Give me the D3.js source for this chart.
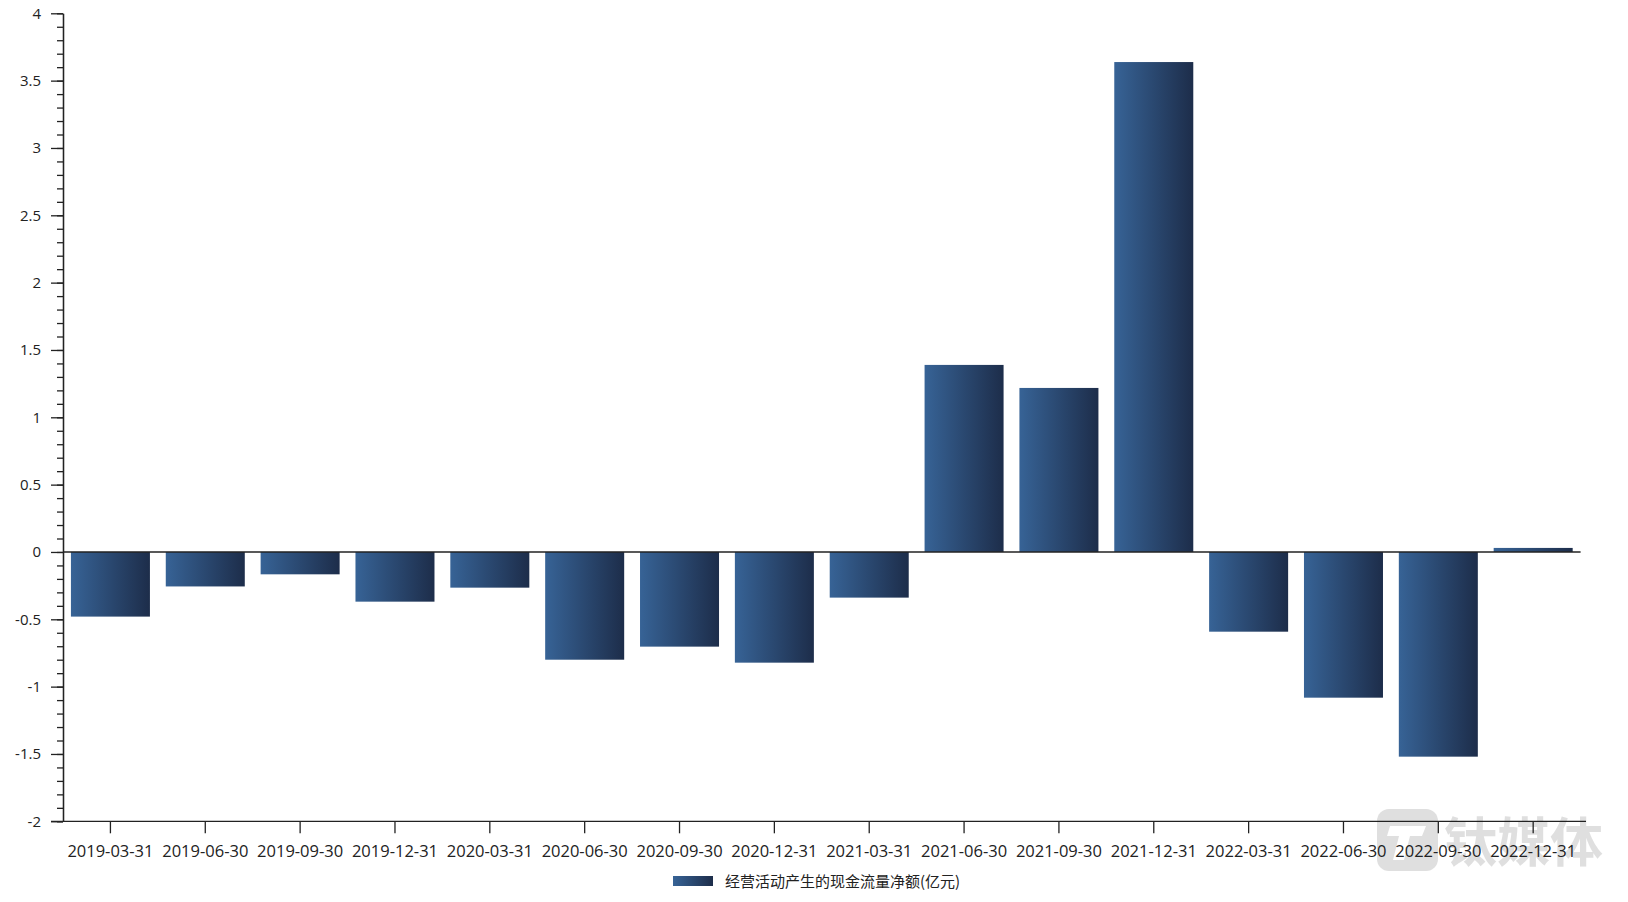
<!DOCTYPE html>
<html><head><meta charset="utf-8">
<script src="https://cdn.jsdelivr.net/npm/d3@7"></script>
<style>
body{margin:0;background:#fff;}
text{font-family:"Noto Sans CJK SC","Noto Sans",sans-serif;}
.num text{font-family:"Open Sans","Noto Sans",sans-serif;}
</style></head>
<body><svg id="c" width="1628" height="902"></svg>
<script>
const categories = ["2019-03-31","2019-06-30","2019-09-30","2019-12-31","2020-03-31","2020-06-30","2020-09-30","2020-12-31","2021-03-31","2021-06-30","2021-09-30","2021-12-31","2022-03-31","2022-06-30","2022-09-30","2022-12-31"];
const values = [-0.48,-0.256,-0.166,-0.369,-0.265,-0.80,-0.703,-0.822,-0.339,1.389,1.218,3.638,-0.592,-1.082,-1.52,0.03];
const seriesName = "经营活动产生的现金流量净额(亿元)";
const yMajorTicks = [-2,-1.5,-1,-0.5,0,0.5,1,1.5,2,2.5,3,3.5,4];
const yMinorTicks = d3.range(-20,41).map(d=>d/10);

const svg = d3.select("#c");
const defs = svg.append("defs");
const grad = defs.append("linearGradient").attr("id","bg").attr("x1","0%").attr("x2","100%").attr("y1","0%").attr("y2","0%");
grad.append("stop").attr("offset","0%").attr("stop-color","#376396");
grad.append("stop").attr("offset","100%").attr("stop-color","#1d2d4a");

const mLeft = 63, mRight = 1580.6, mTop = 13.3, mBottom = 821.3;
const x = d3.scaleBand().domain(categories).range([mLeft,mRight]).paddingInner(0.167).paddingOuter(0.0835);
const y = d3.scaleLinear().domain([-2,4]).range([mBottom,mTop]);

// watermark
const wm = svg.append("g").attr("opacity",0.85);
wm.append("rect").attr("x",1377).attr("y",809).attr("width",61).attr("height",62).attr("rx",12).attr("fill","#dadada");
wm.append("path").attr("d","M1390,826 H1426 L1422,836 H1410 L1404,860 H1393 L1399,836 H1387 Z").attr("fill","#fff");
wm.append("text").attr("x",1444).attr("y",862).attr("font-size",53).attr("font-weight","bold").attr("fill","#dadada").text("钛媒体");

// bars
svg.append("g").selectAll("rect").data(values).join("rect")
  .attr("x",(d,i)=>x(categories[i]))
  .attr("width",x.bandwidth())
  .attr("y",d=>y(Math.max(0,d)))
  .attr("height",d=>Math.abs(y(d)-y(0)))
  .attr("fill","url(#bg)");

// zero line
svg.append("line").attr("x1",mLeft).attr("x2",mRight).attr("y1",y(0)).attr("y2",y(0)).attr("stroke","#222").attr("stroke-width",1.5);

// y axis
const ya = svg.append("g").attr("class","num").attr("transform",`translate(${mLeft},0)`);
ya.call(d3.axisLeft(y).tickValues(yMinorTicks).tickSize(6).tickFormat("").tickSizeOuter(0));
ya.append("g").call(d3.axisLeft(y).tickValues(yMajorTicks).tickSize(12).tickSizeOuter(0).tickFormat(d=>String(d)).tickPadding(10));
ya.selectAll("path,line").attr("stroke","#222").attr("stroke-width",1.3);
ya.selectAll("text").attr("font-size",15).attr("fill","#222");

// x axis
const xa = svg.append("g").attr("class","num").attr("transform",`translate(0,${mBottom})`);
xa.call(d3.axisBottom(x).tickSize(12).tickSizeOuter(0).tickPadding(12));
xa.select(".domain").remove();
xa.append("line").attr("x1",mLeft-12).attr("x2",1586).attr("y1",0).attr("y2",0).attr("stroke","#222").attr("stroke-width",1.3);
xa.selectAll("line").attr("stroke","#222").attr("stroke-width",1.3);
xa.selectAll("text").attr("font-size",16.5).attr("fill","#222");

// legend
svg.append("rect").attr("x",673).attr("y",876).attr("width",40).attr("height",10).attr("fill","url(#bg)");
svg.append("text").attr("x",725).attr("y",887).attr("font-size",15).attr("fill","#222").text(seriesName);
</script></body></html>
